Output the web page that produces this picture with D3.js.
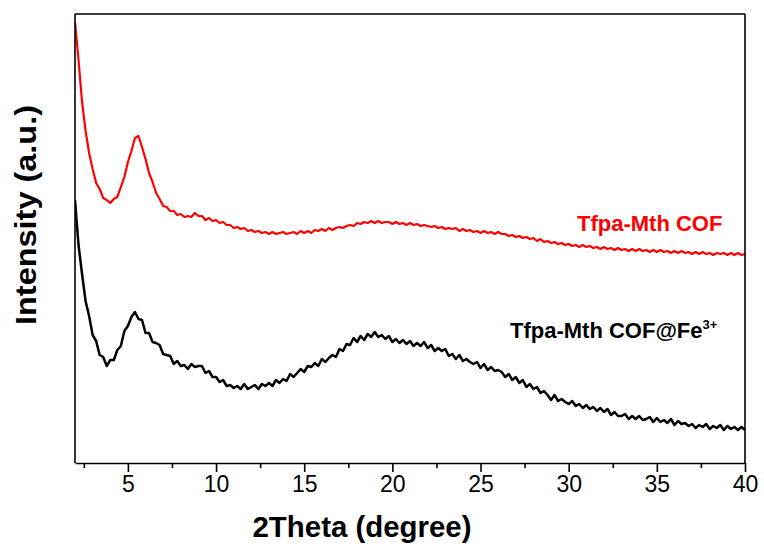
<!DOCTYPE html>
<html>
<head>
<meta charset="utf-8">
<script src="https://cdn.jsdelivr.net/npm/d3@7"></script>
<style>
  html, body { margin: 0; padding: 0; background: #fff; }
  svg { display: block; font-family: "Liberation Sans", Arial, sans-serif; }
</style>
</head>
<body>
<svg id="chart" width="764" height="548"></svg>
<script>
// Scan angles (2θ, degree)
const angles = [
  2.0,2.2,2.4,2.6,2.8,3.0,3.2,3.4,3.6,3.8,4.0,4.2,4.4,4.6,4.8,5.0,5.2,5.4,5.6,5.8,
  6.0,6.2,6.4,6.6,6.8,7.0,7.2,7.4,7.6,7.8,8.0,8.2,8.4,8.6,8.8,9.0,9.2,9.4,9.6,9.8,
  10.0,10.2,10.4,10.6,10.8,11.0,11.2,11.4,11.6,11.8,12.0,12.2,12.4,12.6,12.8,13.0,13.2,13.4,13.6,13.8,
  14.0,14.2,14.4,14.6,14.8,15.0,15.2,15.4,15.6,15.8,16.0,16.2,16.4,16.6,16.8,17.0,17.2,17.4,17.6,17.8,
  18.0,18.2,18.4,18.6,18.8,19.0,19.2,19.4,19.6,19.8,20.0,20.2,20.4,20.6,20.8,21.0,21.2,21.4,21.6,21.8,
  22.0,22.2,22.4,22.6,22.8,23.0,23.2,23.4,23.6,23.8,24.0,24.2,24.4,24.6,24.8,25.0,25.2,25.4,25.6,25.8,
  26.0,26.2,26.4,26.6,26.8,27.0,27.2,27.4,27.6,27.8,28.0,28.2,28.4,28.6,28.8,29.0,29.2,29.4,29.6,29.8,
  30.0,30.2,30.4,30.6,30.8,31.0,31.2,31.4,31.6,31.8,32.0,32.2,32.4,32.6,32.8,33.0,33.2,33.4,33.6,33.8,
  34.0,34.2,34.4,34.6,34.8,35.0,35.2,35.4,35.6,35.8,36.0,36.2,36.4,36.6,36.8,37.0,37.2,37.4,37.6,37.8,
  38.0,38.2,38.4,38.6,38.8,39.0,39.2,39.4,39.6,39.8,40.0
];

// Tfpa-Mth COF (offset trace, a.u.)
const cofIntensity = [
  441,403,361,332,310,294,280,274,265,263,260,264,266,276,286,301,312,325,327,316,
  304,290,281,270,264,257,256,252,252,248,249,246,247,246,250,247,247,243,245,242,
  243,240,241,238,238,235,236,234,235,232,233,231,232,230,231,229,231,229,230,231,
  229,230,231,229,232,230,232,230,233,232,234,232,235,233,235,236,235,237,238,237,
  240,239,241,240,242,240,242,240,241,241,239,241,239,240,238,240,238,239,237,238,
  237,236,237,235,236,234,235,234,235,232,234,232,233,231,232,230,232,230,231,229,
  231,229,229,227,228,226,227,225,226,224,225,222,224,221,222,220,221,219,220,218,
  219,217,218,216,218,216,217,215,216,214,216,214,215,213,215,213,214,212,214,212,
  214,212,213,211,213,211,213,211,212,210,212,210,212,210,211,209,211,209,211,209,
  210,208,210,209,210,208,210,208,210,208,209
];

// Tfpa-Mth COF@Fe3+ (a.u.)
const cofFeIntensity = [
  263,218,189,162,147,128,122,108,106,97,103,103,113,117,132,137,146,151,144,143,
  130,130,121,120,118,109,108,107,99,102,97,98,94,99,96,97,97,90,92,86,
  86,81,83,77,78,75,77,74,79,74,76,78,74,79,77,80,77,83,80,84,
  82,89,86,90,94,91,97,96,100,97,104,101,105,108,106,114,112,119,118,125,
  121,127,123,129,126,131,126,128,124,127,121,124,120,123,119,122,117,120,117,121,
  115,118,112,115,112,114,107,109,104,108,102,104,101,99,101,95,99,93,96,92,
  93,91,86,89,83,86,80,83,76,79,74,76,70,72,68,63,68,62,64,61,
  59,62,57,59,55,58,54,56,52,55,51,54,48,51,47,47,49,44,47,44,
  47,43,44,46,41,45,41,43,40,44,38,42,39,40,37,39,35,38,36,39,
  34,37,35,38,33,37,34,36,33,36,33
];

const xMajorTicks = [5, 10, 15, 20, 25, 30, 35, 40];
const xMinorTicks = [2.5, 7.5, 12.5, 17.5, 22.5, 27.5, 32.5, 37.5];

const series = [
  { name: "Tfpa-Mth COF", values: cofIntensity, color: "#ff0000", width: 2.2 },
  { name: "Tfpa-Mth COF@Fe", values: cofFeIntensity, color: "#000000", width: 2.5 }
];

const svg = d3.select("#chart");
const margin = { left: 75, right: 19, top: 14, bottom: 85 };
const W = 764, H = 548;
const plotW = W - margin.left - margin.right;
const plotH = H - margin.top - margin.bottom;

const x = d3.scaleLinear().domain([2, 40]).range([margin.left, margin.left + plotW]);
const y = d3.scaleLinear().domain([0, 449]).range([margin.top + plotH, margin.top]);

// clip traces to plotting area
svg.append("defs").append("clipPath").attr("id", "plotClip")
  .append("rect")
  .attr("x", margin.left).attr("y", margin.top)
  .attr("width", plotW).attr("height", plotH);

const line = d3.line()
  .x((d, i) => x(angles[i]))
  .y(d => y(d));

const traces = svg.append("g").attr("clip-path", "url(#plotClip)");
series.forEach(s => {
  traces.append("path")
    .datum(s.values)
    .attr("d", line)
    .attr("fill", "none")
    .attr("stroke", s.color)
    .attr("stroke-width", s.width)
    .attr("stroke-linejoin", "round");
});

// frame
const frame = svg.append("g").attr("stroke", "#000").attr("stroke-width", 1.6).attr("fill", "none");
frame.append("line").attr("x1", x(2)).attr("x2", x(40)).attr("y1", y(449)).attr("y2", y(449));
frame.append("line").attr("x1", x(40)).attr("x2", x(40)).attr("y1", y(0)).attr("y2", y(449));
frame.append("line").attr("x1", x(2)).attr("x2", x(2)).attr("y1", y(0)).attr("y2", y(449));

// bottom axis: major ticks with labels, minor ticks without
const xAxis = d3.axisBottom(x).tickValues(xMajorTicks).tickSize(9).tickSizeOuter(0).tickPadding(4)
  .tickFormat(d3.format("d"));
const gx = svg.append("g").attr("transform", `translate(0,${margin.top + plotH})`).call(xAxis);
gx.select(".domain").attr("stroke", "#000").attr("stroke-width", 1.6);
gx.selectAll(".tick line").attr("stroke", "#000").attr("stroke-width", 1.6);
gx.selectAll(".tick text")
  .attr("font-family", "'Liberation Sans', Arial, sans-serif")
  .attr("font-size", 23).attr("fill", "#000");

const xMinor = d3.axisBottom(x).tickValues(xMinorTicks).tickSize(5).tickFormat("");
const gm = svg.append("g").attr("transform", `translate(0,${margin.top + plotH})`).call(xMinor);
gm.select(".domain").remove();
gm.selectAll(".tick line").attr("stroke", "#000").attr("stroke-width", 1.6);

// axis titles
svg.append("text")
  .attr("x", 362).attr("y", 537)
  .attr("text-anchor", "middle")
  .attr("font-size", 30).attr("font-weight", "bold")
  .attr("textLength", 219).attr("lengthAdjust", "spacingAndGlyphs")
  .text("2Theta (degree)");

svg.append("text")
  .attr("transform", "translate(36,215) rotate(-90)")
  .attr("text-anchor", "middle")
  .attr("font-size", 30).attr("font-weight", "bold")
  .attr("textLength", 220).attr("lengthAdjust", "spacingAndGlyphs")
  .text("Intensity (a.u.)");

// trace labels
svg.append("text")
  .attr("x", 577).attr("y", 231)
  .attr("font-size", 22).attr("font-weight", "bold")
  .attr("fill", "#ff0000")
  .text("Tfpa-Mth COF");

const feLabel = svg.append("text")
  .attr("x", 510).attr("y", 338)
  .attr("font-size", 22).attr("font-weight", "bold")
  .attr("fill", "#000");
feLabel.append("tspan").text("Tfpa-Mth COF@Fe");
feLabel.append("tspan").attr("font-size", 13).attr("dy", -9).text("3+");
</script>
</body>
</html>
